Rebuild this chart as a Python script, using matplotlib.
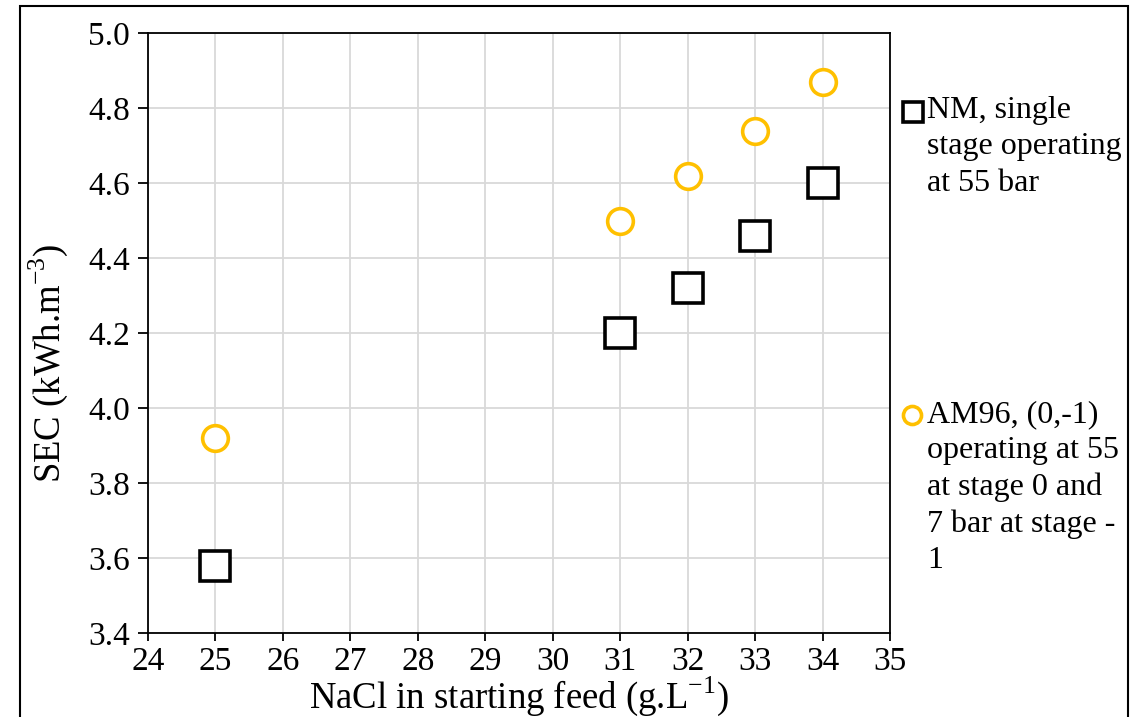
import matplotlib.pyplot as plt
from matplotlib.lines import Line2D
from matplotlib.patches import Rectangle

plt.rcParams['font.family'] = ['Liberation Serif', 'DejaVu Serif']
plt.rcParams['mathtext.fontset'] = 'custom'
plt.rcParams['mathtext.rm'] = 'Liberation Serif'

# data
nacl = [25, 31, 32, 33, 34]
sec_nm = [3.58, 4.20, 4.32, 4.46, 4.60]
sec_am96 = [3.92, 4.50, 4.62, 4.74, 4.87]

label_nm = "NM, single\nstage operating\nat 55 bar"
label_am = "AM96, (0,-1)\noperating at 55\nat stage 0 and\n7 bar at stage -\n1"

orange = "#FFC000"

fig = plt.figure(figsize=(11.4, 7.17), dpi=100)
W, H = 1140, 717
ax = fig.add_axes([148 / W, 1 - 633 / H, (890 - 148) / W, (633 - 33) / H])

ax.plot(nacl, sec_nm, ls='none', marker='s', ms=21, mfc='white', mec='black', mew=2.6, zorder=3)
ax.plot(nacl, sec_am96, ls='none', marker='o', ms=18.5, mfc='white', mec=orange, mew=2.6, zorder=3)

ax.set_xlim(24, 35)
ax.set_ylim(3.4, 5.0)
ax.set_xticks(range(24, 36))
ax.set_yticks([3.4 + 0.2 * i for i in range(9)])
ax.set_yticklabels([f"{3.4 + 0.2 * i:.1f}" for i in range(9)])
ax.grid(True, color='#D9D9D9', lw=1.3)
ax.set_axisbelow(True)
for s in ax.spines.values():
    s.set_linewidth(1.3)
    s.set_color('black')
ax.tick_params(axis='both', direction='out', labelsize=24, width=1.3, color='black')
ax.tick_params(axis='y', length=7, pad=6)
ax.tick_params(axis='x', length=6, pad=4)

ax.set_xlabel("NaCl in starting feed (g.L$^{\\mathregular{-1}}$)", fontsize=26.5, labelpad=-2)
ax.set_ylabel("SEC (kWh.m$^{\\mathregular{-3}}$)", fontsize=26.5)
ax.yaxis.set_label_coords(-0.105, 0.45)

# legend drawn by hand (Excel style, marker next to first line)
fig.add_artist(Line2D([913 / W], [1 - 112 / H], transform=fig.transFigure, ls='none',
                      marker='s', ms=14, mfc='white', mec='black', mew=2.6))
fig.add_artist(Line2D([912 / W], [1 - 415 / H], transform=fig.transFigure, ls='none',
                      marker='o', ms=13, mfc='white', mec=orange, mew=2.6))
fig.text(927 / W, 1 - 96 / H, label_nm, fontsize=23, va='top', ha='left', linespacing=1.33)
fig.text(927 / W, 1 - 400 / H, label_am, fontsize=23, va='top', ha='left', linespacing=1.33)

# outer chart frame
fig.add_artist(Rectangle((20 / W, -0.05), (1128 - 20) / W, 1.05 - 6 / H,
                         transform=fig.transFigure, fill=False, ec='black', lw=1.5, clip_on=False))

fig.savefig("out.png", dpi=100)
